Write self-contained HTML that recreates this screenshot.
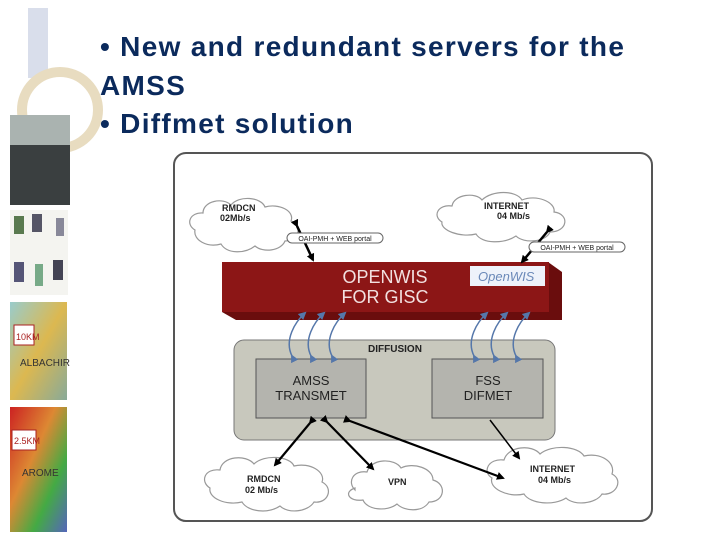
<!DOCTYPE html>
<html><head><meta charset="utf-8"><style>
body{margin:0;width:720px;height:540px;background:#fff;overflow:hidden;position:relative;font-family:"Liberation Sans",sans-serif}
.t{position:absolute;left:100px;color:#0b2a5c;font-weight:bold;font-size:28px;letter-spacing:1.3px;white-space:nowrap}
</style></head><body>
<svg width="720" height="540" style="position:absolute;left:0;top:0">
<defs>
<marker id="a" markerWidth="8" markerHeight="8" refX="6" refY="4" orient="auto" markerUnits="userSpaceOnUse"><path d="M0,0L8,4L0,8z" fill="#000"/></marker>
<marker id="b" markerWidth="8" markerHeight="8" refX="6" refY="4" orient="auto" markerUnits="userSpaceOnUse"><path d="M0,0L8,4L0,8z" fill="#5577aa"/></marker>
<linearGradient id="m1" x1="0" y1="0" x2="1" y2="1"><stop offset="0" stop-color="#9cc"/><stop offset=".5" stop-color="#dcb850"/><stop offset="1" stop-color="#8a9"/></linearGradient>
<linearGradient id="m2" x1="0" y1="0" x2="1" y2="1"><stop offset="0" stop-color="#c22"/><stop offset=".4" stop-color="#d83"/><stop offset=".7" stop-color="#4a4"/><stop offset="1" stop-color="#56b"/></linearGradient>
</defs>
<rect x="28" y="8" width="20" height="70" fill="#cfd6e6" opacity=".8"/>
<circle cx="60" cy="110" r="38" fill="none" stroke="#e8dcc0" stroke-width="10"/>
<rect x="10" y="115" width="60" height="90" fill="#3a3f40"/>
<rect x="10" y="115" width="60" height="30" fill="#aab3b0"/>
<rect x="10" y="210" width="58" height="85" fill="#f4f4f0"/>
<rect x="14" y="216" width="10" height="18" fill="#5a7a50"/><rect x="32" y="214" width="10" height="18" fill="#556"/><rect x="56" y="218" width="8" height="18" fill="#889"/>
<rect x="14" y="262" width="10" height="20" fill="#557"/><rect x="35" y="264" width="8" height="22" fill="#7a8"/><rect x="53" y="260" width="10" height="20" fill="#445"/>
<rect x="10" y="302" width="57" height="98" fill="url(#m1)"/>
<rect x="14" y="325" width="20" height="20" fill="#fff" stroke="#a22"/>
<text x="16" y="340" font-size="9" fill="#a22">10KM</text>
<text x="20" y="366" font-size="10" fill="#333">ALBACHIR</text>
<rect x="10" y="407" width="57" height="125" fill="url(#m2)"/>
<rect x="12" y="430" width="24" height="20" fill="#fff" stroke="#a22"/>
<text x="14" y="444" font-size="9" fill="#a22">2.5KM</text>
<text x="22" y="476" font-size="10" fill="#333">AROME</text>
<rect x="174" y="153" width="478" height="368" rx="12" fill="#fff" stroke="#555" stroke-width="2"/>
<g fill="#fff" stroke="#999" stroke-width="1.2">
<path d="M195,230c-10,-6 -5,-18 8,-17c0,-12 20,-16 28,-8c8,-10 30,-8 34,2c14,-4 30,4 26,14c12,4 8,20 -6,20c-4,10 -22,12 -30,5c-10,8 -28,8 -34,-2c-14,4 -28,-4 -26,-14z"/>
<path d="M442,222c-10,-6 -4,-18 10,-16c2,-12 24,-14 30,-6c10,-10 34,-10 40,0c14,-6 34,2 32,12c16,2 14,20 -4,20c-4,10 -26,12 -34,4c-12,8 -34,8 -40,-2c-16,4 -36,-4 -34,-12z"/>
<path d="M210,488c-10,-6 -6,-20 10,-18c2,-14 26,-16 34,-6c10,-10 36,-8 40,2c16,-4 32,6 28,16c12,6 6,22 -8,20c-6,10 -26,12 -34,4c-12,8 -32,6 -38,-4c-16,4 -34,-4 -32,-14z"/>
<path d="M355,490c-8,-8 -2,-20 12,-18c4,-14 28,-14 34,-4c12,-6 32,0 32,12c14,4 12,22 -4,22c-6,10 -24,10 -32,2c-10,8 -30,6 -34,-4c-14,2 -20,-8 -8,-12z"/>
<path d="M492,478c-10,-6 -4,-20 12,-18c4,-14 28,-16 36,-6c12,-10 38,-8 44,2c16,-4 32,6 28,18c12,6 4,22 -10,20c-6,10 -28,12 -36,4c-12,8 -36,6 -42,-4c-16,4 -36,-6 -32,-16z"/>
</g>
<g font-size="9" font-weight="bold" fill="#222">
<text x="222" y="211">RMDCN</text><text x="220" y="221">02Mb/s</text>
<text x="484" y="209">INTERNET</text><text x="497" y="219">04 Mb/s</text>
<text x="247" y="482">RMDCN</text><text x="245" y="493">02 Mb/s</text>
<text x="388" y="485">VPN</text>
<text x="530" y="472">INTERNET</text><text x="538" y="483">04 Mb/s</text>
</g>
<polygon points="222,262 548,262 562,272 562,320 236,320 222,312" fill="#6a0d0d"/>
<rect x="222" y="262" width="327" height="50" fill="#8c1616"/>
<rect x="470" y="266" width="75" height="20" fill="#eef2fa"/>
<text x="478" y="281" font-size="13" fill="#6a88b8" font-style="italic">OpenWIS</text>
<text x="385" y="283" font-size="18" fill="#f2e0e0" text-anchor="middle">OPENWIS</text>
<text x="385" y="303" font-size="18" fill="#f2e0e0" text-anchor="middle">FOR GISC</text>
<g stroke="#000" stroke-width="2.5" marker-start="url(#a)" marker-end="url(#a)">
<line x1="297" y1="226" x2="313" y2="260"/>
<line x1="547" y1="232" x2="522" y2="262"/>
</g>
<rect x="287" y="233" width="96" height="10" rx="5" fill="#fff" stroke="#666"/>
<text x="335" y="241" font-size="7" text-anchor="middle" fill="#222">OAI-PMH + WEB portal</text>
<rect x="529" y="242" width="96" height="10" rx="5" fill="#fff" stroke="#666"/>
<text x="577" y="250" font-size="7" text-anchor="middle" fill="#222">OAI-PMH + WEB portal</text>
<rect x="234" y="340" width="321" height="100" rx="10" fill="#c8c8bd" stroke="#777"/>
<text x="395" y="352" font-size="10" font-weight="bold" text-anchor="middle" fill="#222">DIFFUSION</text>
<rect x="256" y="359" width="110" height="59" fill="#b4b4ae" stroke="#555"/>
<text x="311" y="385" font-size="13" text-anchor="middle" fill="#222">AMSS</text>
<text x="311" y="400" font-size="13" text-anchor="middle" fill="#222">TRANSMET</text>
<rect x="432" y="359" width="111" height="59" fill="#b4b4ae" stroke="#555"/>
<text x="488" y="385" font-size="13" text-anchor="middle" fill="#222">FSS</text>
<text x="488" y="400" font-size="13" text-anchor="middle" fill="#222">DIFMET</text>
<g fill="none" stroke="#5577aa" stroke-width="1.5">
<path d="M292,356C284,340 295,322 305,313" marker-start="url(#b)" marker-end="url(#b)"/>
<path d="M311,356C303,340 314,322 324,313" marker-start="url(#b)" marker-end="url(#b)"/>
<path d="M332,356C324,340 335,322 345,313" marker-start="url(#b)" marker-end="url(#b)"/>
<path d="M474,356C466,340 477,322 487,313" marker-start="url(#b)" marker-end="url(#b)"/>
<path d="M494,356C486,340 497,322 507,313" marker-start="url(#b)" marker-end="url(#b)"/>
<path d="M516,356C508,340 519,322 529,313" marker-start="url(#b)" marker-end="url(#b)"/>
</g>
<g stroke="#000" stroke-width="2.2" marker-start="url(#a)" marker-end="url(#a)">
<line x1="310" y1="423" x2="275" y2="465"/>
<line x1="327" y1="422" x2="373" y2="469"/>
<line x1="350" y1="421" x2="503" y2="478"/>
</g>
<line x1="490" y1="420" x2="519" y2="458" stroke="#000" stroke-width="1.5" marker-end="url(#a)"/>
</svg>
<div class="t" style="top:31px">• New and redundant servers for the</div>
<div class="t" style="top:70px">AMSS</div>
<div class="t" style="top:108px">• Diffmet solution</div>
</body></html>
